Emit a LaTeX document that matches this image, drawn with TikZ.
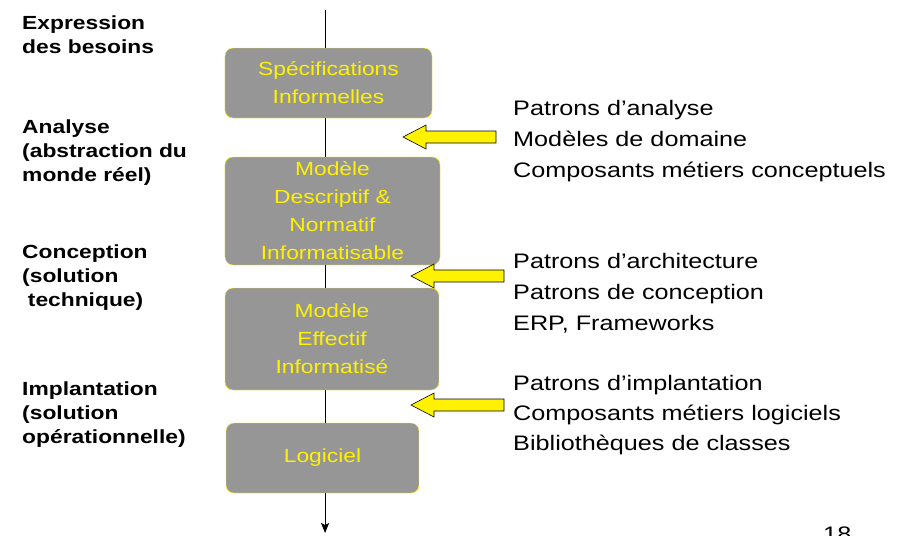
\documentclass[tikz,border=0pt]{standalone}
\usepackage{fontspec}
\setmainfont{Liberation Sans}
\usetikzlibrary{arrows.meta, positioning}
\definecolor{boxgray}{RGB}{150,150,150}

\begin{document}
\begin{tikzpicture}[x=0.8333pt, y=-1pt, xscale=1.2, transform shape,
  stagebox/.style={draw=yellow, fill=boxgray, rounded corners=8pt, text=yellow,
    align=center, inner sep=0pt, font=\fontsize{19}{28}\selectfont},
  phaselbl/.style={anchor=base west, align=left, inner sep=0pt,
    font=\fontsize{19}{24}\selectfont\bfseries},
  toollist/.style={anchor=base west, align=left, inner sep=0pt,
    font=\fontsize{21}{31}\selectfont},
  yarrow/.pic={\draw[fill=yellow, line width=0.6pt] (0,0) -- (23,-12) -- (23,-6)
    -- (93,-6) -- (93,6) -- (23,6) -- (23,12) -- cycle;}]
\useasboundingbox (0,0) rectangle (911,535);
\clip (0,0) rectangle (911,535);

% stages of the process
\node[stagebox, minimum width=172.5pt, minimum height=70pt] (spec) at (328.5,83) {Spécifications\\Informelles};
\node[stagebox, minimum width=179.2pt, minimum height=108pt] (desc) at (332.5,211) {Modèle\\Descriptif \&\\Normatif\\Informatisable};
\node[stagebox, minimum width=178.3pt, minimum height=102pt] (effec) at (332,339) {Modèle\\Effectif\\Informatisé};
\node[stagebox, minimum width=160.8pt, minimum height=70pt] (logi) at (322.5,458) {Logiciel};

% main axis
\coordinate (top) at (325,10);
\coordinate (bot) at (325,533);
\draw[line width=0.8pt] (top) -- (top |- spec.north);
\draw[line width=0.8pt] (spec.south -| top) -- (desc.north -| top);
\draw[line width=0.8pt] (desc.south -| top) -- (effec.north -| top);
\draw[line width=0.8pt] (effec.south -| top) -- (logi.north -| top);
\draw[line width=0.8pt, -{Stealth[length=10pt, width=8pt, inset=2pt]}] (logi.south -| top) -- (bot);

% phases (base = last line)
\node[phaselbl] (expr) at (22,53) {Expression\\des besoins};
\node[phaselbl] (anal) at (22,181) {Analyse\\(abstraction du\\monde réel)};
\node[phaselbl] (conc) at (22,306) {Conception\\(solution\\\hspace*{0.25em}technique)};
\node[phaselbl] (impl) at (22,443) {Implantation\\(solution\\opérationnelle)};

% reused elements
\pic (ar1) at (403,137) {yarrow};
\pic (ar2) at (411,276) {yarrow};
\pic (ar3) at (411,405) {yarrow};
\node[toollist] (tana) at (513,177) {Patrons d’analyse\\Modèles de domaine\\Composants métiers conceptuels};
\node[toollist] (tconc) at (513,330) {Patrons d’architecture\\Patrons de conception\\ERP, Frameworks};
\node[toollist, font=\fontsize{21}{30}\selectfont] (timpl) at (513,450) {Patrons d’implantation\\Composants métiers logiciels\\Bibliothèques de classes};

\node[anchor=base west, inner sep=0pt, font=\fontsize{21}{24}\selectfont] (pgno) at (823,541) {18};
\end{tikzpicture}
\end{document}
